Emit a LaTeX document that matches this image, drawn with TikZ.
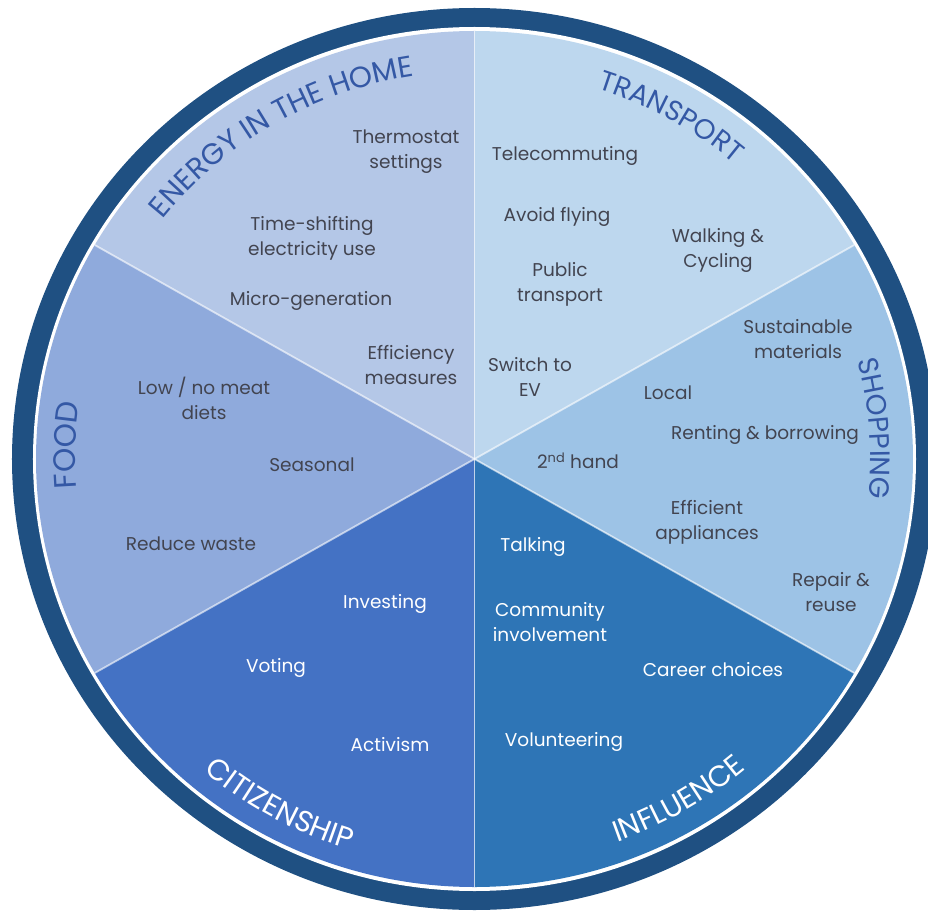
\documentclass[tikz,border=0pt]{standalone}
\usepackage{fontspec}
\setmainfont{Poppins}
\usetikzlibrary{decorations.text}
\definecolor{ringc}{RGB}{31,80,130}
\definecolor{energyc}{RGB}{180,199,231}
\definecolor{transc}{RGB}{189,215,238}
\definecolor{shopc}{RGB}{157,195,230}
\definecolor{inflc}{RGB}{46,117,182}
\definecolor{citic}{RGB}{68,114,196}
\definecolor{foodc}{RGB}{143,170,220}
\definecolor{headc}{RGB}{52,88,165}
\definecolor{itemc}{RGB}{66,68,80}
\newcommand\myitemfont{\fontsize{18.5}{25}\selectfont}
\newcommand\myheadfont{\fontsize{28}{28}\selectfont}
\newcommand\myheadfontL{\fontsize{29.5}{29.5}\selectfont}
\newcommand\myheadfontXL{\fontsize{31}{31}\selectfont}
\begin{document}
\begin{tikzpicture}[x=1pt,y=1pt,
  divider/.style={draw=white, draw opacity=0.6, line width=1.8pt},
  item/.style={font=\myitemfont, text=itemc, align=center, inner sep=0pt},
  itemw/.style={item, text=white},
  headtext/.style={decorate, decoration={text along path, text align=center, text color=#1}}]
\useasboundingbox (-474.5,-454) rectangle (453.5,459);
\clip (-474.5,-454) rectangle (453.5,459);
\coordinate (c) at (0,0);
% ring
\fill[ringc] (c) ellipse [x radius=462.5, y radius=451];
\fill[white] (c) ellipse [x radius=441.5, y radius=432];
% sectors
\foreach \a/\b/\col in {30/90/transc, 90/150/energyc, 150/210/foodc, 210/270/citic, 270/330/inflc, 330/390/shopc}
  \fill[\col] (c) -- (\a:438.5 and 428) arc[start angle=\a, end angle=\b, x radius=438.5, y radius=428] -- cycle;
% dividers
\foreach \a in {30,90,150,210,270,330}
  \draw[divider] (c) -- (\a:438.5 and 428);
% headings (clockwise, letters outward)
\path[headtext=headc, decoration={text={|\myheadfontL|ENERGY IN THE HOME}}]
  (170:397 and 387.5) arc[start angle=170, end angle=71, x radius=397, y radius=387.5];
\path[headtext=headc, decoration={text={|\myheadfont|TRANSPORT}}]
  (100.5:399 and 389.5) arc[start angle=100.5, end angle=20.5, x radius=399, y radius=389.5];
\path[headtext=headc, decoration={text={|\myheadfont|SHOPPING}}]
  (44.4:396 and 386.5) arc[start angle=44.4, end angle=-35.6, x radius=396, y radius=386.5];
\path[headtext=headc, decoration={text={|\myheadfontXL|FOOD}}]
  (218:399 and 389.5) arc[start angle=218, end angle=138, x radius=399, y radius=389.5];
% headings (counterclockwise, letters inward)
\path[headtext=white, decoration={text={|\myheadfontL|INFLUENCE}}]
  (-99.5:417.5 and 407.5) arc[start angle=-99.5, end angle=-19.5, x radius=417.5, y radius=407.5];
\path[headtext=white, decoration={text={|\myheadfontL|CITIZENSHIP}}]
  (-159:419 and 409) arc[start angle=-159, end angle=-79, x radius=419, y radius=409];
% items, placed in image pixel coordinates
\begin{scope}[shift={(-474.5,459)}, y=-1pt]
  % energy in the home
  \node[item] (thermo) at (406,152) {Thermostat\\settings};
  \node[item] (timeshift) at (312,238) {Time-shifting\\electricity use};
  \node[item] (micro) at (311,301) {Micro-generation};
  \node[item] (effic) at (411,365) {Efficiency\\measures};
  % food
  \node[item] (lowmeat) at (204,398) {Low / no meat\\diets};
  \node[item] (seasonal) at (312,465) {Seasonal};
  \node[item] (reduce) at (191,544) {Reduce waste};
  % citizenship
  \node[itemw] (investing) at (385,604) {Investing};
  \node[itemw] (voting) at (276,668) {Voting};
  \node[itemw] (activism) at (390,745) {Activism};
  % transport
  \node[item] (telecom) at (565,156) {Telecommuting};
  \node[item] (avoid) at (557,217) {Avoid flying};
  \node[item] (public) at (560,284) {Public\\transport};
  \node[item] (walking) at (718,250) {Walking \&\\Cycling};
  \node[item] (switch) at (530,377) {Switch to\\EV};
  % shopping
  \node[item] (sustain) at (798,339) {Sustainable\\materials};
  \node[item] (local) at (668,393) {Local};
  \node[item] (renting) at (765,435) {Renting \& borrowing};
  \node[item] (second) at (578,461) {2\textsuperscript{nd} hand};
  \node[item] (efficient) at (707,522) {Efficient\\appliances};
  \node[item] (repair) at (831,592) {Repair \&\\reuse};
  % influence
  \node[itemw] (talking) at (533,547) {Talking};
  \node[itemw] (community) at (550,622) {Community\\involvement};
  \node[itemw] (career) at (713,670) {Career choices};
  \node[itemw] (volunteer) at (564,742) {Volunteering};
\end{scope}
\end{tikzpicture}
\end{document}
